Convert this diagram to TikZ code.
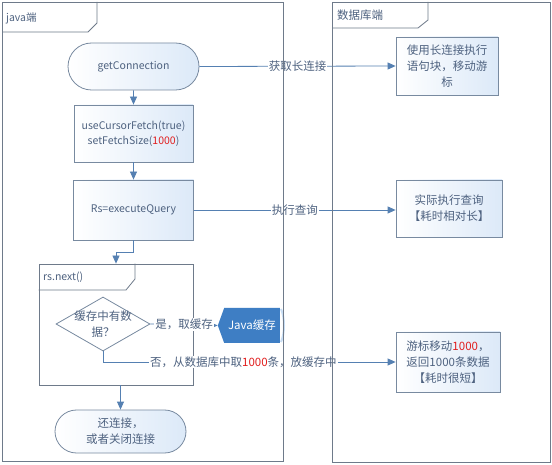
\documentclass[tikz,border=0pt]{standalone}
\usepackage{fontspec}
\setmainfont{Noto Sans CJK SC}
\usetikzlibrary{shapes.geometric,shapes.misc,shapes.symbols,arrows.meta}
\definecolor{txt}{RGB}{78,98,128}
\definecolor{ln}{RGB}{120,138,160}
\definecolor{pn}{RGB}{110,122,138}
\definecolor{arr}{RGB}{85,128,178}
\definecolor{fillb}{RGB}{220,233,248}
\definecolor{cacheb}{RGB}{62,126,196}
\definecolor{cachel}{RGB}{200,222,245}
\definecolor{redn}{RGB}{225,30,30}
\tikzset{
  base/.style={text=txt, align=center, font=\fontsize{11.5}{16}\selectfont, inner sep=0pt},
  latin/.style={font=\fontsize{10.5}{15}\selectfont},
  term/.style={base, rounded rectangle, draw=ln, line width=0.8pt, left color=white, right color=fillb},
  proc/.style={base, rectangle, draw=ln, line width=0.8pt, left color=white, right color=fillb},
  cont/.style={rectangle, draw=pn, line width=0.8pt, inner sep=0pt},
  dec/.style={diamond, draw=ln, line width=0.8pt, fill=white, inner sep=0pt},
  lbl/.style={base, fill=white, inner sep=1pt},
  conn/.style={draw=arr, line width=0.8pt, -{Triangle[length=8pt,width=7pt]}},
  panel/.style={draw=pn, line width=0.8pt},
}
\begin{document}
\begin{tikzpicture}[x=1pt,y=-1pt]
\useasboundingbox (0,0) rectangle (552,465);
\fill[white] (0,0) rectangle (552,465);
% java side nodes
\node[term, latin, minimum width=131pt, minimum height=47pt] (gc) at (133.5,66.5) {getConnection};
\node[proc, latin, minimum width=119pt, minimum height=57pt] (fetch) at (133.5,133.5) {useCursorFetch(true)\\setFetchSize({\color{redn}1000})};
\node[proc, latin, minimum width=120pt, minimum height=60pt] (rs) at (133.5,210) {Rs=executeQuery};
\node[cont, minimum width=154pt, minimum height=121pt] (loop) at (116,324.5) {};
\node[base, latin, anchor=west] (looplbl) at (43,277) {rs.next()};
\node[dec, minimum width=94pt, minimum height=54pt] (dec) at (103,324) {};
\node[base] (dect) at (dec.center) {缓存中有数\\据？};
\node[signal, signal to=west, signal pointer angle=140, fill=cacheb, text=white, font=\fontsize{11.5}{16}\selectfont, inner sep=0pt, minimum width=62pt, minimum height=35pt] (cache) at (252,325.5) {Java缓存};
\node[term, minimum width=131pt, minimum height=43pt] (end) at (120.5,431.5) {还连接，\\或者关闭连接};
% db side nodes
\node[proc, minimum width=102pt, minimum height=58pt] (db1) at (447,66) {使用长连接执行\\语句块，移动游\\标};
\node[proc, minimum width=106pt, minimum height=57pt] (db2) at (449,208.5) {实际执行查询\\【耗时相对长】};
\node[proc, minimum width=104pt, minimum height=60pt] (db3) at (448,362) {游标移动{\color{redn}1000}，\\返回1000条数据\\【耗时很短】};
% connectors
\draw[conn] (gc) -- (fetch);
\draw[conn] (fetch) -- (rs);
\draw[conn] (rs.south) -- ++(0,12) -| (loop.north);
\draw[conn] (loop.south -| end.north) -- (end.north);
\draw[conn] (gc.east) -- (db1.west) node[lbl, midway] (l1) {获取长连接};
\draw[conn] (rs.east) -- (db2.west |- rs.east) node[lbl, midway] (l2) {执行查询};
\draw[conn] (dec.east) -- (cache.west) node[lbl, midway] (yes) {是，取缓存};
\draw[conn] (dec.south) |- (db3.west) node[lbl, pos=0.74] (no) {否，从数据库中取{\color{redn}1000}条，放缓存中};
% cache right end
\draw[cachel, line width=2pt] (281,309) .. controls (285,318) and (285,333) .. (281,342);
% loop tab
\draw[panel] (loop.north west -| 135,0) -- (135,279) -- (126,290) -- (loop.west |- 0,290);
% panels
\draw[panel] (2,2) rectangle (283,461);
\draw[panel] (97,2) -- (97,23) -- (88,32) -- (2,32);
\node[base, latin, anchor=west] (jt) at (6,18) {java端};
\draw[panel] (332,2) rectangle (550,462);
\draw[panel] (428,2) -- (428,20) -- (418,28) -- (332,28);
\node[base, anchor=west] (dbt) at (337,15) {数据库端};
\end{tikzpicture}
\end{document}
